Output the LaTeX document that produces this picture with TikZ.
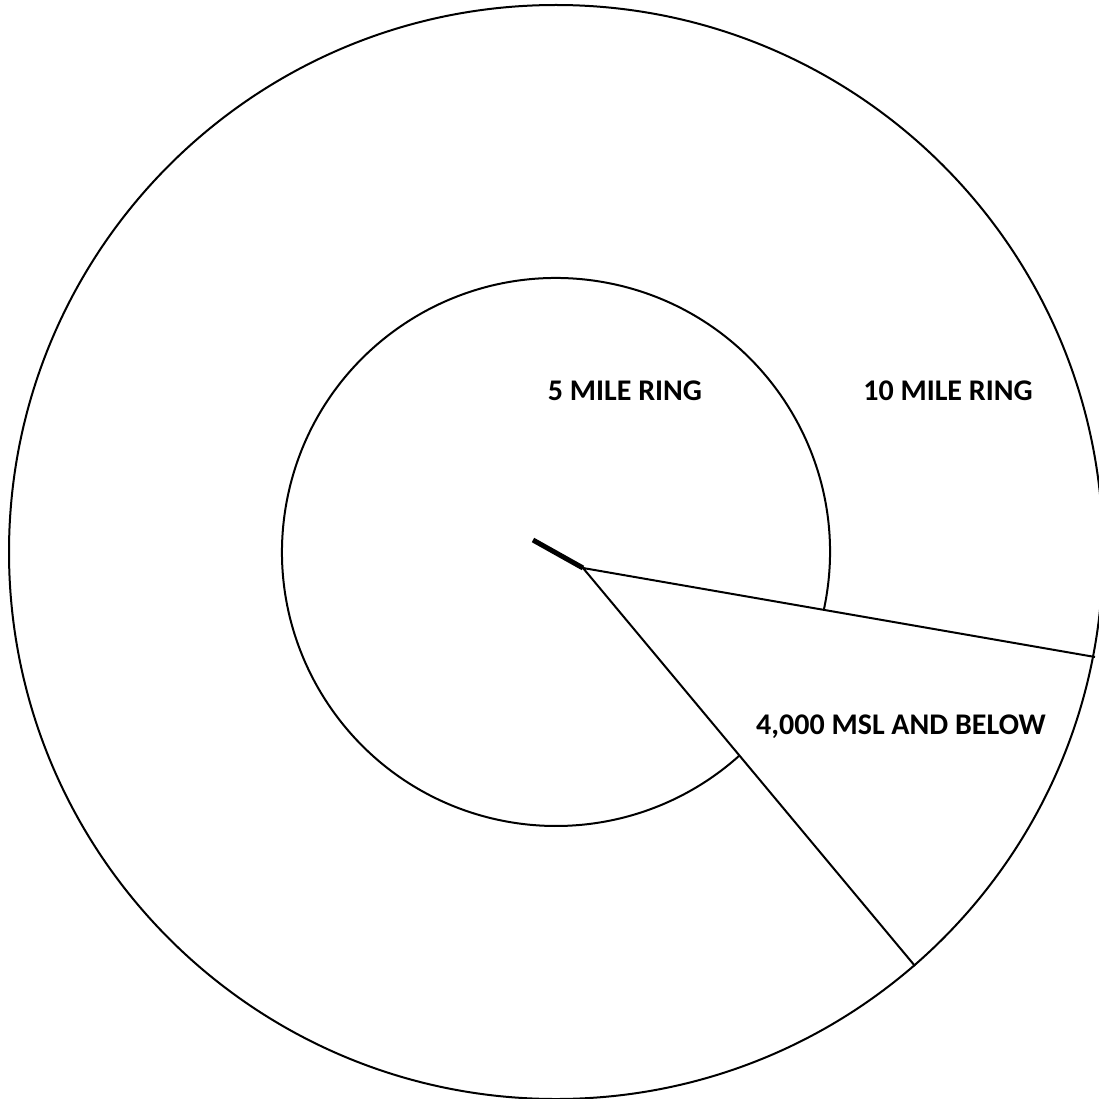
\documentclass[tikz,border=0pt]{standalone}
\usepackage{fontspec}
\setmainfont{Carlito}
\usepackage{tikz}
\usetikzlibrary{calc}

\tikzset{ringlabel/.style={font=\bfseries\fontsize{30}{36}\selectfont,inner sep=0pt}}

\begin{document}
\begin{tikzpicture}[x=1pt,y=1pt]
  \def\rin{274}\def\rout{547}
  \useasboundingbox (0,0) rectangle (1099,-1099);
  \clip (0,0) rectangle (1099,-1099);
  \coordinate (ctr) at (556,-552);
  \coordinate (apex) at (583,-568);
  \coordinate (tail) at (533,-540);
  \coordinate (edgeA) at (1095,-657);
  \coordinate (edgeB) at (915,-966);
  % 10 mile ring
  \draw[line width=2pt] (ctr) circle (\rout);
  % 5 mile ring, open where the sector cuts it
  \draw[line width=2pt] ($(ctr)+(-12.2:\rin)$) arc[start angle=-12.2,end angle=312.0,radius=\rin];
  % sector
  \draw[line width=2pt] (edgeA) -- (apex) -- (edgeB);
  \draw[line width=5pt] (tail) -- (apex);
  \node[ringlabel] (five) at (625,-391) {5 MILE RING};
  \node[ringlabel] (ten) at (948,-391) {10 MILE RING};
  \node[ringlabel] (msl) at (901,-727) {4,000 MSL AND BELOW};
\end{tikzpicture}
\end{document}
